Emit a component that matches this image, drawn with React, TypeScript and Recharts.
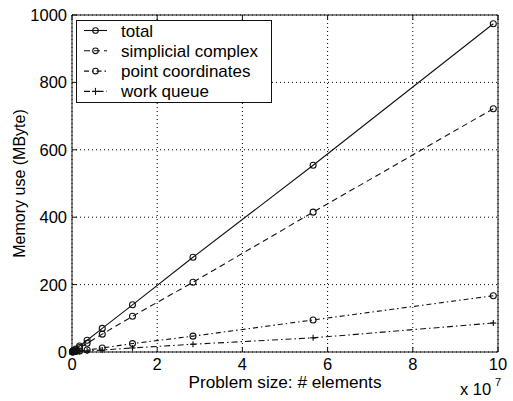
import React from "react";
import { LineChart, Line, XAxis, YAxis, CartesianGrid, Legend } from "recharts";

const FONT = "'Liberation Sans', Arial, Helvetica, sans-serif";

// problem sizes (# elements), largest first
const elements = [98900000, 56600000, 28400000, 14200000, 7100000, 3550000, 1780000, 890000, 445000, 222000, 111000];
// memory use in MByte
const total = [974, 554, 281, 140, 70, 35, 17.6, 8.8, 4.4, 2.2, 1.1];
const simplicial = [722, 415, 207, 106, 53, 26, 13, 6.5, 3.3, 1.6, 0.8];
const pointCoords = [167, 95, 47, 25, 12, 6, 3, 1.5, 0.8, 0.4, 0.2];
const workQueue = [86, 42, 23, 12, 6, 3, 1.5, 0.8, 0.4, 0.2, 0.1];

const xTicks = [0, 20000000, 40000000, 60000000, 80000000, 100000000];
const yTicks = [0, 200, 400, 600, 800, 1000];

const data = elements.map((n, i) => ({
  n,
  total: total[i],
  simplicial: simplicial[i],
  points: pointCoords[i],
  queue: workQueue[i],
}));

const series = [
  { key: "total", name: "total", dash: undefined as string | undefined, mark: "o" },
  { key: "simplicial", name: "simplicial complex", dash: "6 4", mark: "o" },
  { key: "points", name: "point coordinates", dash: "5 3 1.5 3", mark: "o" },
  { key: "queue", name: "work queue", dash: "6 3 1.5 3", mark: "+" },
];

const INK = "#111";

const Circle = ({ cx, cy, r = 3.6 }: any) =>
  cx == null || cy == null ? null : (
    <circle cx={cx} cy={cy} r={r} fill="none" stroke={INK} strokeWidth={1.1} />
  );

const Plus = ({ cx, cy, r = 4 }: any) =>
  cx == null || cy == null ? null : (
    <g stroke={INK} strokeWidth={1.1}>
      <line x1={cx - r} y1={cy} x2={cx + r} y2={cy} />
      <line x1={cx} y1={cy - r} x2={cx} y2={cy + r} />
    </g>
  );

const LeftTick = ({ x, y, payload }: any) => (
  <g>
    <line x1={x} y1={y} x2={x + 5} y2={y} stroke={INK} />
    <text x={x - 5} y={y} dy={6} textAnchor="end" fontSize={16.5} fill="#000" fontFamily={FONT}>
      {payload.value}
    </text>
  </g>
);

const BottomTick = ({ x, y, payload }: any) => (
  <g>
    <line x1={x} y1={y} x2={x} y2={y - 5} stroke={INK} />
    <text x={x} y={y + 18} textAnchor="middle" fontSize={16.5} fill="#000" fontFamily={FONT}>
      {payload.value / 10000000}
    </text>
  </g>
);

const TopTick = ({ x, y }: any) => <line x1={x} y1={y} x2={x} y2={y + 5} stroke={INK} />;
const RightTick = ({ x, y }: any) => <line x1={x} y1={y} x2={x - 5} y2={y} stroke={INK} />;

const LegendBox = () => (
  <div style={{ border: `1px solid ${INK}`, background: "#fff", width: 196, height: 83, boxSizing: "border-box" }}>
    <svg width={194} height={81} style={{ display: "block" }}>
      {series.map((s, i) => {
        const cy = 9.5 + i * 20.3;
        return (
          <g key={s.key}>
            <line x1={7} x2={30} y1={cy} y2={cy} stroke={INK} strokeWidth={1.1} strokeDasharray={s.dash} />
            {s.mark === "o" ? <Circle cx={18.5} cy={cy} r={2.8} /> : <Plus cx={18.5} cy={cy} r={3.5} />}
            <text x={44} y={cy + 6} fontSize={17} fontFamily={FONT} fill="#000">
              {s.name}
            </text>
          </g>
        );
      })}
    </svg>
  </div>
);

export default function App() {
  return (
    <div style={{ position: "absolute", left: 0, top: 0, background: "#fff" }}>
      <LineChart width={513} height={401} data={data} margin={{ top: 5, right: 5, left: 0, bottom: 0 }}>
        <CartesianGrid stroke="#000" strokeDasharray="1 3" />
        <XAxis
          dataKey="n"
          type="number"
          domain={[0, 100000000]}
          ticks={xTicks}
          interval={0}
          height={49}
          axisLine={{ stroke: INK }}
          tickLine={false}
          tickSize={0}
          tickMargin={0}
          tick={<BottomTick />}
          label={{
            content: ({ viewBox }: any) => (
              <g fontFamily={FONT} fill="#000">
                <text x={viewBox.x + viewBox.width / 2} y={viewBox.y + 36} textAnchor="middle" fontSize={17.2}>
                  Problem size: # elements
                </text>
                <text x={viewBox.x + viewBox.width - 38} y={viewBox.y + 43} fontSize={16.5}>
                  x 10
                </text>
                <text x={viewBox.x + viewBox.width - 3} y={viewBox.y + 34} fontSize={11}>
                  7
                </text>
              </g>
            ),
          }}
        />
        <XAxis
          xAxisId="top"
          orientation="top"
          dataKey="n"
          type="number"
          domain={[0, 100000000]}
          ticks={xTicks}
          interval={0}
          height={10}
          axisLine={{ stroke: INK }}
          tickLine={false}
          tickSize={0}
          tickMargin={0}
          tick={<TopTick />}
        />
        <YAxis
          type="number"
          domain={[0, 1000]}
          ticks={yTicks}
          interval={0}
          width={72}
          axisLine={{ stroke: INK }}
          tickLine={false}
          tickSize={0}
          tickMargin={0}
          tick={<LeftTick />}
          label={{
            content: ({ viewBox }: any) => {
              const cx = 25;
              const cy = viewBox.y + viewBox.height / 2;
              return (
                <text
                  x={cx}
                  y={cy}
                  textAnchor="middle"
                  fontSize={16}
                  fontFamily={FONT}
                  fill="#000"
                  transform={`rotate(-90, ${cx}, ${cy})`}
                >
                  Memory use (MByte)
                </text>
              );
            },
          }}
        />
        <YAxis
          yAxisId="right"
          orientation="right"
          type="number"
          domain={[0, 1000]}
          ticks={yTicks}
          interval={0}
          width={10}
          axisLine={{ stroke: INK }}
          tickLine={false}
          tickSize={0}
          tickMargin={0}
          tick={<RightTick />}
        />
        <Legend
          layout="horizontal"
          verticalAlign="middle"
          align="center"
          content={() => <LegendBox />}
          wrapperStyle={{ position: "absolute", left: 76, top: 20, width: 196, height: 83 }}
        />
        {series.map((s) => (
          <Line
            key={s.key}
            dataKey={s.key}
            name={s.name}
            stroke={INK}
            strokeWidth={1.1}
            strokeDasharray={s.dash}
            dot={s.mark === "o" ? <Circle /> : <Plus />}
            activeDot={false}
            isAnimationActive={false}
          />
        ))}
      </LineChart>
    </div>
  );
}
